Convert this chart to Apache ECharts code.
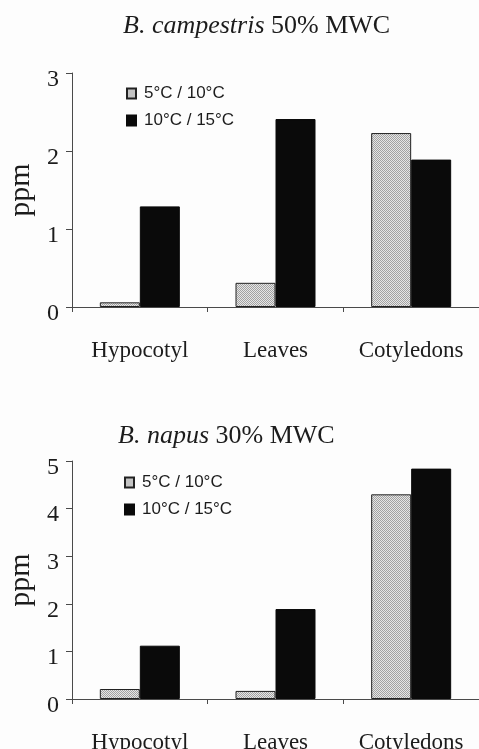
<!DOCTYPE html>
<html>
<head>
<meta charset="utf-8">
<script src="https://cdn.jsdelivr.net/npm/echarts@6/dist/echarts.min.js"></script>
<style>
  html, body { margin: 0; padding: 0; background: #fdfdfd; }
  #chart { width: 479px; height: 749px; }
</style>
</head>
<body>
<div id="chart"></div>
<script>
// Tissue categories shared by both panels
const categories = ['Hypocotyl', 'Leaves', 'Cotyledons'];
const seriesNames = ['5°C / 10°C', '10°C / 15°C'];

// B. campestris at 50% MWC (ppm)
const campestrisCool = [0.06, 0.31, 2.23];
const campestrisWarm = [1.29, 2.41, 1.89];
const campestrisTicks = { max: 3, interval: 1 };

// B. napus at 30% MWC (ppm)
const napusCool = [0.21, 0.17, 4.30];
const napusWarm = [1.12, 1.89, 4.84];
const napusTicks = { max: 5, interval: 1 };

// Stippled fill for the cooler regime
function stipple() {
  const c = document.createElement('canvas');
  c.width = 2; c.height = 2;
  const g = c.getContext('2d');
  g.fillStyle = '#e6e6e6'; g.fillRect(0, 0, 2, 2);
  g.fillStyle = '#a2a2a2'; g.fillRect(0, 0, 1, 1); g.fillRect(1, 1, 1, 1);
  return c;
}
const dotted = { image: stipple(), repeat: 'repeat' };

const serif = '"Liberation Serif", "Times New Roman", serif';
const sans = '"Liberation Sans", Arial, sans-serif';
const ink = '#1c1c1c';
const axisGrey = '#4a4a4a';

function xAxisFor(gridIndex) {
  return {
    type: 'category', gridIndex: gridIndex, data: categories,
    boundaryGap: true,
    axisLine: { lineStyle: { color: axisGrey, width: 1 } },
    axisTick: { show: true, length: 5, inside: false, lineStyle: { color: axisGrey } },
    axisLabel: { color: ink, fontFamily: serif, fontSize: 23, margin: 32, interval: 0 }
  };
}
function yAxisFor(gridIndex, ticks) {
  return {
    type: 'value', gridIndex: gridIndex, min: 0, max: ticks.max, interval: ticks.interval,
    name: 'ppm', nameLocation: 'middle', nameGap: 31, nameRotate: 90,
    nameTextStyle: { color: ink, fontFamily: serif, fontSize: 30 },
    splitLine: { show: false },
    axisLine: { show: true, lineStyle: { color: axisGrey, width: 1 } },
    axisTick: { show: true, length: 6, lineStyle: { color: axisGrey } },
    axisLabel: { color: ink, fontFamily: serif, fontSize: 24, margin: 13,
      verticalAlign: 'top', lineHeight: 13 }
  };
}
function barPair(idx, cool, warm) {
  return [
    { name: seriesNames[0], type: 'bar', xAxisIndex: idx, yAxisIndex: idx, data: cool,
      barWidth: 40, barGap: '0%',
      itemStyle: { color: dotted, borderColor: '#222', borderWidth: 1 } },
    { name: seriesNames[1], type: 'bar', xAxisIndex: idx, yAxisIndex: idx, data: warm,
      barWidth: 40, barGap: '0%',
      itemStyle: { color: '#0a0a0a', borderColor: '#0a0a0a', borderWidth: 1 } }
  ];
}
function legendAt(left, top) {
  return {
    left: left, top: top, orient: 'vertical', data: seriesNames, padding: 0,
    itemWidth: 9, itemHeight: 10, itemGap: 10, icon: 'rect',
    selectedMode: false,
    textStyle: { color: ink, fontFamily: sans, fontSize: 17, padding: [0, 0, 0, 3] }
  };
}
function panelTitle(text, left, top) {
  return {
    text: text, left: left, top: top, padding: 0,
    textStyle: { color: ink, fontFamily: serif, fontSize: 26, fontWeight: 'normal',
      rich: { i: { fontStyle: 'italic', fontFamily: serif, fontSize: 26, color: ink } } }
  };
}

const chart = echarts.init(document.getElementById('chart'), null, { renderer: 'canvas' });
chart.setOption({
  backgroundColor: '#fdfdfd',
  animation: false,
  title: [
    panelTitle('{i|B. campestris} 50% MWC', 123, 13),
    panelTitle('{i|B. napus} 30% MWC', 118, 423)
  ],
  legend: [legendAt(126, 85), legendAt(124, 474)],
  grid: [
    { left: 72, right: 0, top: 73, height: 234, outerBoundsMode: 'none' },
    { left: 72, right: 0, top: 461, height: 238, outerBoundsMode: 'none' }
  ],
  xAxis: [xAxisFor(0), xAxisFor(1)],
  yAxis: [yAxisFor(0, campestrisTicks), yAxisFor(1, napusTicks)],
  series: [].concat(barPair(0, campestrisCool, campestrisWarm), barPair(1, napusCool, napusWarm))
});
</script>
</body>
</html>
